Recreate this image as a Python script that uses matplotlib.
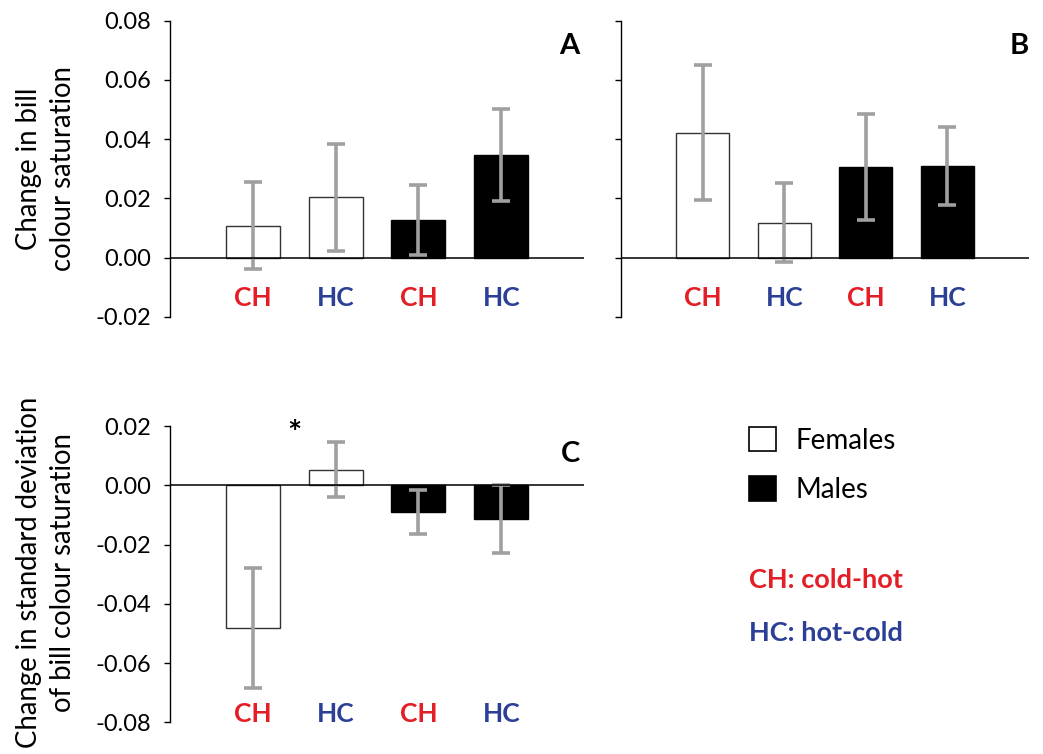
import matplotlib
matplotlib.use("Agg")
import matplotlib.pyplot as plt
from matplotlib.patches import Patch

plt.rcParams['font.family'] = ['Lato', 'DejaVu Sans']

# ---- data ----
groups = ["CH", "HC", "CH", "HC"]
sex = ["F", "F", "M", "M"]
a_vals = [0.0107, 0.0203, 0.0127, 0.0347]
a_err = [0.0147, 0.0182, 0.0117, 0.0155]
b_vals = [0.0422, 0.0118, 0.0307, 0.0309]
b_err = [0.0229, 0.0134, 0.0179, 0.0131]
c_vals = [-0.0482, 0.0053, -0.0091, -0.0114]
c_err = [0.0203, 0.0094, 0.0074, 0.0116]
ab_ticks = [-0.02, 0.00, 0.02, 0.04, 0.06, 0.08]
c_ticks = [-0.08, -0.06, -0.04, -0.02, 0.00, 0.02]

RED = "#E31E26"
BLUE = "#2B3F96"
GRAY = "#A0A0A0"
label_colors = {"CH": RED, "HC": BLUE}
face = {"F": "white", "M": "black"}

fig = plt.figure(figsize=(10.43, 7.54), dpi=100)
W, H = 1043, 754


def add_ax(x0, x1, ytop, ybot):
    return fig.add_axes([x0 / W, 1 - ybot / H, (x1 - x0) / W, (ybot - ytop) / H])


axA = add_ax(170, 584, 20.7, 316.7)
axB = add_ax(621, 1029, 20.7, 316.7)
axC = add_ax(170, 584, 426.0, 722.3)

xpos = [1, 2, 3, 4]


def draw(ax, vals, errs, ticks, ylim, lab_y, letter, letter_xy, show_labels=True):
    for x, v, e, s in zip(xpos, vals, errs, sex):
        ec = "black" if s == "M" else "#333333"
        ax.bar(x, v, width=0.65, color=face[s], edgecolor=ec, linewidth=1.0, zorder=2)
        ax.errorbar(x, v, yerr=e, fmt="none", ecolor=GRAY, elinewidth=2.6,
                    capsize=6.5, capthick=2.6, zorder=3)
    ax.axhline(0, color="black", linewidth=1.1, zorder=4)
    ax.set_xlim(0, 5)
    ax.set_ylim(*ylim)
    ax.set_yticks(ticks)
    if show_labels:
        ax.set_yticklabels([f"{t:.2f}" for t in ticks], fontsize=17)
    else:
        ax.set_yticklabels([])
    ax.tick_params(axis="y", direction="out", length=4.5, width=1.0, pad=9)
    ax.set_xticks([])
    for sp in ["top", "right", "bottom"]:
        ax.spines[sp].set_visible(False)
    ax.spines["left"].set_linewidth(1.0)
    for x, g in zip(xpos, groups):
        ax.text(x, lab_y, g, color=label_colors[g], fontsize=19, fontweight="bold",
                ha="center", va="center")
    ax.text(letter_xy[0], letter_xy[1], letter, transform=ax.transAxes,
            fontsize=21, fontweight="bold", ha="right", va="center")
    ax.patch.set_alpha(0)


draw(axA, a_vals, a_err, ab_ticks, (-0.02, 0.08), -0.01375, "A", (0.99, 0.915))
draw(axB, b_vals, b_err, ab_ticks, (-0.02, 0.08), -0.01375, "B", (1.0, 0.915),
     show_labels=False)
draw(axC, c_vals, c_err, c_ticks, (-0.08, 0.02), -0.0771, "C", (0.99, 0.905))

axA.set_ylabel("Change in bill\ncolour saturation", fontsize=19.8, linespacing=1.38)
axA.yaxis.set_label_coords(-0.226, 0.5)
axC.set_ylabel("Change in standard deviation\nof bill colour saturation", fontsize=19.8,
               linespacing=1.38)
axC.yaxis.set_label_coords(-0.226, 0.505)

axC.text(1.5, 0.0172, "*", fontsize=24, fontweight="bold", ha="center", va="center")

handles = [Patch(facecolor="white", edgecolor="black", linewidth=1.2, label="Females"),
           Patch(facecolor="black", edgecolor="black", linewidth=1.2, label="Males")]
fig.legend(handles=handles, loc="upper left", bbox_to_anchor=(749 / W, 1 - 427 / H),
           frameon=False, fontsize=20, handlelength=0.97, handleheight=0.97,
           handletextpad=0.7, labelspacing=0.82, borderpad=0, borderaxespad=0)

fig.text(749 / W, 1 - 580 / H, "CH: cold-hot", color=RED, fontsize=19.5, fontweight="bold",
         ha="left", va="center")
fig.text(749 / W, 1 - 633 / H, "HC: hot-cold", color=BLUE, fontsize=19.5, fontweight="bold",
         ha="left", va="center")

fig.savefig("out.png", dpi=100)
